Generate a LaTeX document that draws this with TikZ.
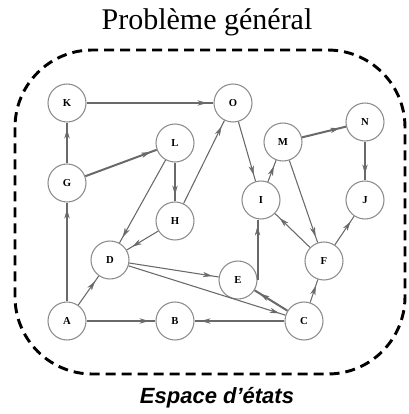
\documentclass[tikz,border=0pt]{standalone}
\usepackage{fontspec}
\usepackage{tikz}
\usepackage{xcolor}
\usetikzlibrary{arrows.meta,decorations.markings}
\setmainfont{Liberation Serif}
\newfontfamily\captionfont{Liberation Sans}
\definecolor{edgegray}{RGB}{105,105,105}
\definecolor{ringgray}{RGB}{140,140,140}

\begin{document}
\begin{tikzpicture}[x=0.75pt, y=-0.75pt, >=Stealth,
    state/.style={circle, draw=ringgray, line width=0.8pt, minimum size=28.5pt,
      inner sep=0pt, font=\fontsize{8}{9}\selectfont\bfseries},
    link/.style={draw=edgegray, line width=0.8pt, postaction={decorate},
      decoration={markings, mark=at position -5pt with
        {\arrow[edgegray]{Stealth[length=7pt,width=4pt,line width=0.3pt]}}}},
    heavy/.style={link, line width=1.5pt}]
    \useasboundingbox (0,0) rectangle (409,414);

    % Titles
    \node (title) at (207,22) {\fontsize{22.5}{26}\selectfont Problème général};
    \node (caption) at (217,398) {\captionfont\bfseries\itshape\fontsize{16.5}{19}\selectfont Espace d’états};

    % Dashed border of the state space
    \draw[line width=2.2pt, dash pattern=on 7.5pt off 4.5pt, rounded corners=58pt]
        (15,50) rectangle (405,374);

    % States
    \node[state] (K) at (67,103) {K};
    \node[state] (O) at (233,103) {O};
    \node[state] (L) at (175,143) {L};
    \node[state] (G) at (67,183) {G};
    \node[state] (M) at (283,142) {M};
    \node[state] (N) at (365,122) {N};
    \node[state] (I) at (261,200) {I};
    \node[state] (J) at (365,200) {J};
    \node[state] (H) at (175,221) {H};
    \node[state] (D) at (110,260) {D};
    \node[state] (E) at (238,280) {E};
    \node[state] (F) at (324,261) {F};
    \node[state] (A) at (67,321) {A};
    \node[state] (B) at (175,321) {B};
    \node[state] (C) at (304,321) {C};

    % Transitions
    \draw[heavy] (A) -- (G);
    \draw[heavy] (G) -- (K);
    \draw[heavy] (K) -- (O);
    \draw[heavy] (G) -- (L);
    \draw[heavy] (A) -- (B);
    \draw[heavy] (C) -- (B);
    \draw[heavy] (M) -- (N);
    \draw[heavy] (N) -- (J);
    \draw[heavy] (C) -- (E);
    \draw[heavy] (E.east) -- (E.east |- I.south);
    \draw[link] (L) -- (H);
    \draw[link] (L) -- (D);
    \draw[link] (H) -- (O);
    \draw[link] (H) -- (D);
    \draw[link] (O) -- (I);
    \draw[link] (I) -- (M);
    \draw[link] (M) -- (F);
    \draw[link] (F) -- (I);
    \draw[link] (F) -- (J);
    \draw[link] (C) -- (F);
    \draw[link] (A) -- (D);
    \draw[link] (D) -- (E);
    \draw[link] (D) -- (C);
\end{tikzpicture}
\end{document}
